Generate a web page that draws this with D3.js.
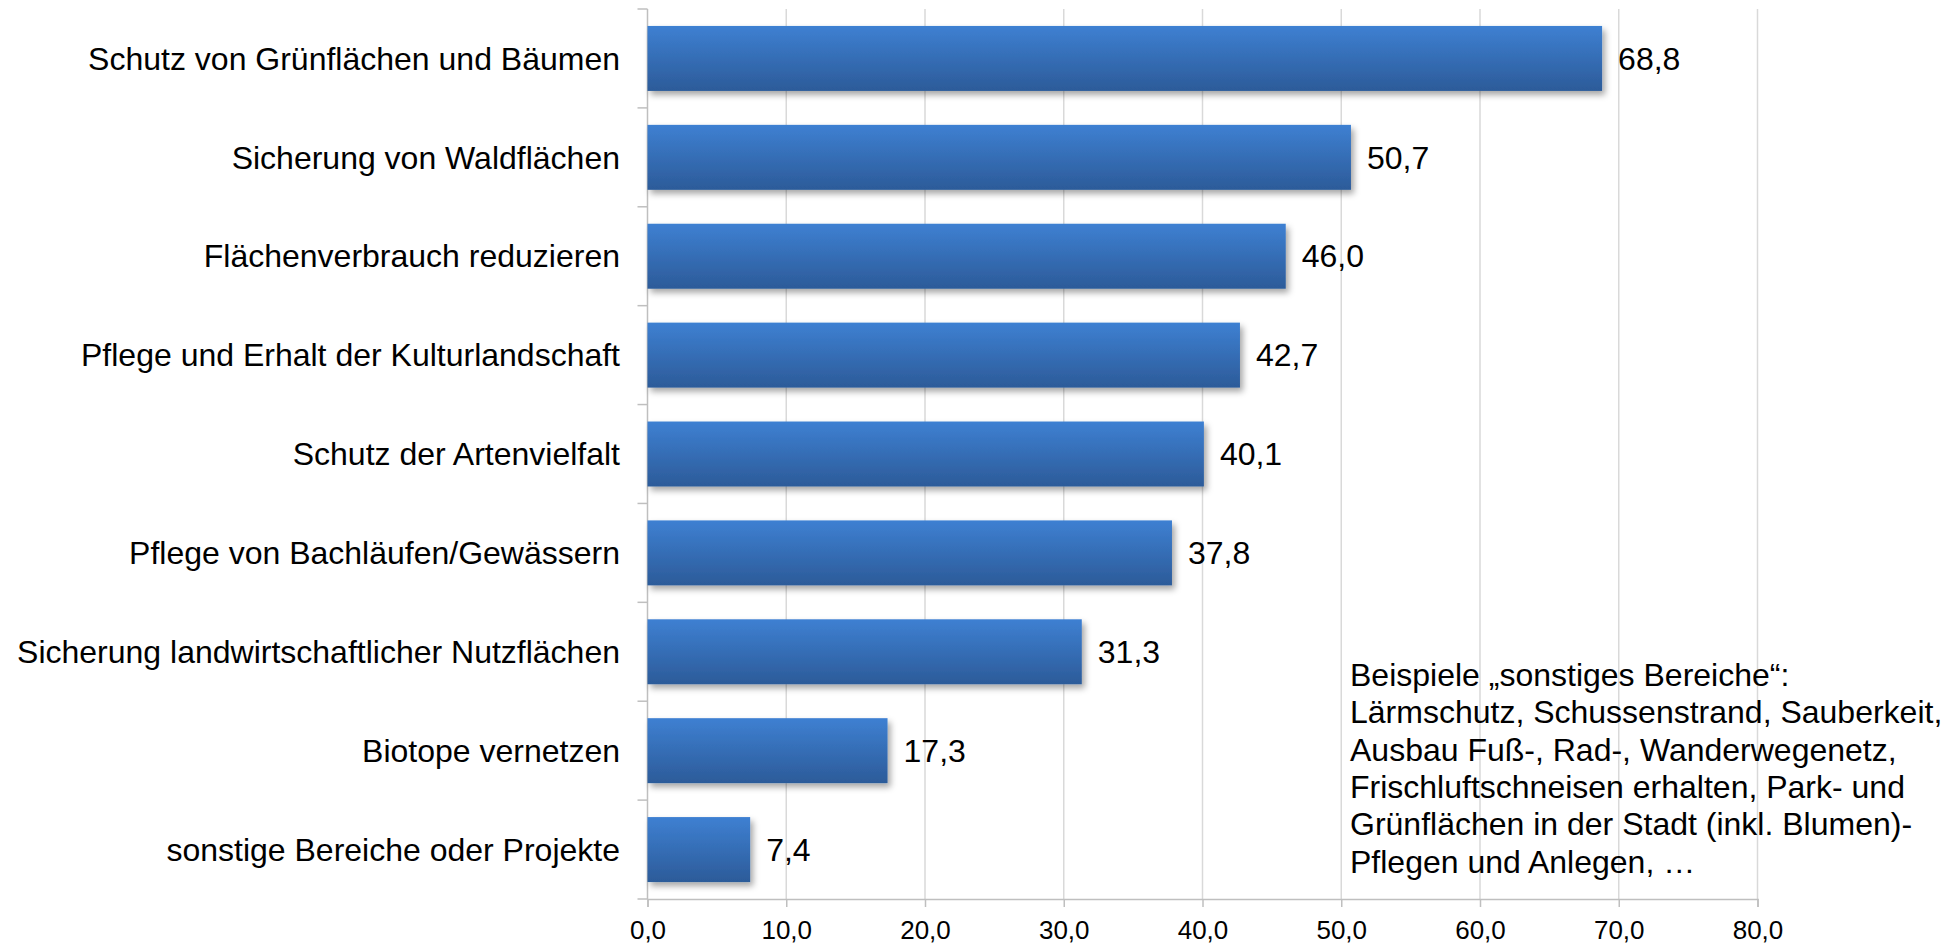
<!DOCTYPE html>
<html>
<head>
<meta charset="utf-8">
<script src="https://cdn.jsdelivr.net/npm/d3@7"></script>
<style>
  html, body { margin: 0; padding: 0; background: #fff; }
  svg { display: block; }
  text { font-family: "Liberation Sans", Arial, sans-serif; fill: #000; }
</style>
</head>
<body>
<script>
const categories = [
  "Schutz von Grünflächen und Bäumen",
  "Sicherung von Waldflächen",
  "Flächenverbrauch reduzieren",
  "Pflege und Erhalt der Kulturlandschaft",
  "Schutz der Artenvielfalt",
  "Pflege von Bachläufen/Gewässern",
  "Sicherung landwirtschaftlicher Nutzflächen",
  "Biotope vernetzen",
  "sonstige Bereiche oder Projekte"
];
const values = [68.8, 50.7, 46.0, 42.7, 40.1, 37.8, 31.3, 17.3, 7.4];
const xTicks = [0, 10, 20, 30, 40, 50, 60, 70, 80];
const noteLines = [
  "Beispiele „sonstiges Bereiche“:",
  "Lärmschutz, Schussenstrand, Sauberkeit,",
  "Ausbau Fuß-, Rad-, Wanderwegenetz,",
  "Frischluftschneisen erhalten, Park- und",
  "Grünflächen in der Stadt (inkl. Blumen)-",
  "Pflegen und Anlegen, …"
];

const W = 1960, H = 944;
const fmt = v => v.toFixed(1).replace(".", ",");

const svg = d3.select("body").append("svg").attr("width", W).attr("height", H);
const defs = svg.append("defs");
const grad = defs.append("linearGradient").attr("id", "barGrad")
  .attr("x1", 0).attr("y1", 0).attr("x2", 0).attr("y2", 1);
grad.append("stop").attr("offset", "0%").attr("stop-color", "#3e80d2");
grad.append("stop").attr("offset", "100%").attr("stop-color", "#2c5b99");
const f = defs.append("filter").attr("id", "shadow")
  .attr("x", "-5%").attr("y", "-20%").attr("width", "115%").attr("height", "160%");
f.append("feDropShadow").attr("dx", 3).attr("dy", 4).attr("stdDeviation", 3)
  .attr("flood-color", "#000").attr("flood-opacity", 0.35);

const x = d3.scaleLinear().domain([0, 80]).range([647.5, 1757.5]);
const y = d3.scaleBand().domain(categories).range([9, 899])
  .paddingInner(0.343).paddingOuter(0.1715);

// gridlines
svg.append("g").selectAll("line").data(xTicks.slice(1)).join("line")
  .attr("x1", d => x(d)).attr("x2", d => x(d))
  .attr("y1", 9).attr("y2", 899)
  .attr("stroke", "#d9d9d9").attr("stroke-width", 1.5);

// x axis
const xAxis = svg.append("g").attr("transform", "translate(0,899)")
  .call(d3.axisBottom(x).tickValues(xTicks).tickFormat(fmt).tickSize(8).tickPadding(14));
xAxis.select(".domain").attr("stroke", "#bfbfbf").attr("stroke-width", 1.5);
xAxis.selectAll(".tick line").attr("stroke", "#bfbfbf").attr("stroke-width", 1.5);
xAxis.selectAll(".tick text").attr("font-size", 26).attr("font-family", "Liberation Sans, Arial, sans-serif").attr("fill", "#000");

// y axis
const step = y.step();
const bounds = d3.range(categories.length + 1).map(i => 9 + i * step);
svg.append("line").attr("x1", x(0)).attr("x2", x(0)).attr("y1", 9).attr("y2", 899)
  .attr("stroke", "#bfbfbf").attr("stroke-width", 1.5);
svg.append("g").selectAll("line").data(bounds).join("line")
  .attr("x1", x(0) - 10).attr("x2", x(0)).attr("y1", d => d).attr("y2", d => d)
  .attr("stroke", "#bfbfbf").attr("stroke-width", 1.5);

// bars
svg.append("g").selectAll("rect").data(values).join("rect")
  .attr("x", x(0))
  .attr("y", (d, i) => y(categories[i]))
  .attr("width", d => x(d) - x(0))
  .attr("height", y.bandwidth())
  .attr("fill", "url(#barGrad)")
  .attr("filter", "url(#shadow)");

// category labels
svg.append("g").selectAll("text").data(categories).join("text")
  .attr("x", 620).attr("y", d => y(d) + y.bandwidth() / 2)
  .attr("dy", "0.35em").attr("text-anchor", "end").attr("font-size", 32)
  .text(d => d);

// value labels
svg.append("g").selectAll("text").data(values).join("text")
  .attr("x", d => x(d) + 16).attr("y", (d, i) => y(categories[i]) + y.bandwidth() / 2)
  .attr("dy", "0.35em").attr("font-size", 32)
  .text(d => fmt(d));

// note
svg.append("g").selectAll("text").data(noteLines).join("text")
  .attr("x", 1350).attr("y", (d, i) => 686 + i * 37.3)
  .attr("font-size", 32)
  .text(d => d);
</script>
</body>
</html>
